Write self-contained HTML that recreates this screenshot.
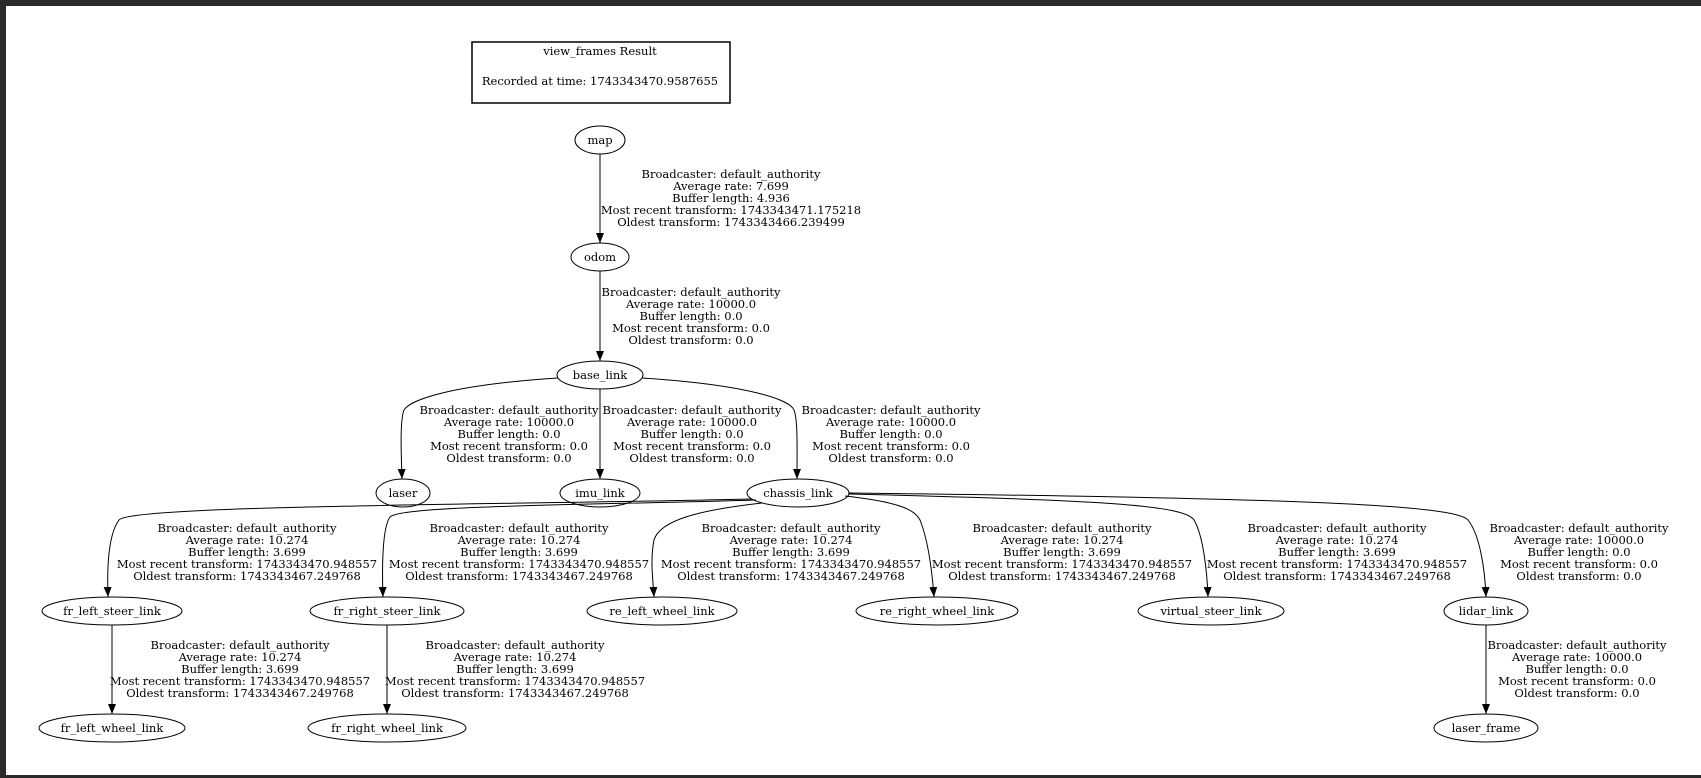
<!DOCTYPE html>
<html><head><meta charset="utf-8"><style>
html,body{margin:0;padding:0;background:#2b2b2b;}
svg{display:block;}
text{font-family:"DejaVu Serif","Liberation Serif",serif;font-size:11.5px;fill:#000;}
</style></head><body>
<svg width="1701" height="778" viewBox="0 0 1701 778" xmlns="http://www.w3.org/2000/svg">
<defs><marker id="a" markerWidth="10" markerHeight="8" refX="10" refY="4" orient="auto" markerUnits="userSpaceOnUse"><path d="M0,0 L10,4 L0,8 Z" fill="#000"/></marker></defs>
<rect x="0" y="0" width="1701" height="778" fill="#2b2b2b"/>
<rect x="6" y="6" width="1695" height="769" fill="#fff"/>
<g fill="none" stroke="#000" stroke-width="1">
<rect x="472" y="42" width="258" height="61" stroke-width="1.5"/>
<ellipse cx="600" cy="140" rx="25" ry="14"/>
<ellipse cx="600" cy="257" rx="29" ry="14"/>
<ellipse cx="600" cy="375" rx="43" ry="14"/>
<ellipse cx="403" cy="493" rx="27" ry="14"/>
<ellipse cx="600" cy="493" rx="40" ry="14"/>
<ellipse cx="798" cy="493" rx="51" ry="14"/>
<ellipse cx="112" cy="611" rx="70" ry="14"/>
<ellipse cx="387" cy="611" rx="77" ry="14"/>
<ellipse cx="662" cy="611" rx="75" ry="14"/>
<ellipse cx="937" cy="611" rx="81" ry="14"/>
<ellipse cx="1211" cy="611" rx="73" ry="14"/>
<ellipse cx="1486" cy="611" rx="42" ry="14"/>
<ellipse cx="112" cy="728" rx="73" ry="14"/>
<ellipse cx="387" cy="728" rx="79" ry="14"/>
<ellipse cx="1486" cy="728" rx="52" ry="14"/>
<g marker-end="url(#a)">
<path d="M600,154 L600,243"/>
<path d="M600,271 L600,361"/>
<path d="M558,378 C450,385 410,400 404,410 C400,420 401,450 402,479"/>
<path d="M600,389 L600,479"/>
<path d="M642,378 C750,385 790,400 794,410 C798,420 797,450 797,479"/>
<path d="M752,499 C500,505 130,505 119,520 C108,535 107,570 108,597"/>
<path d="M756,500 C600,505 400,505 390,517 C382,528 382,570 383,597"/>
<path d="M762,503 C700,510 660,520 654,540 C650,560 653,580 654,597"/>
<path d="M845,496 C900,502 915,510 920,520 C928,540 932,570 934,597"/>
<path d="M849,494 C1100,500 1185,505 1194,520 C1203,535 1207,570 1208,597"/>
<path d="M849,493 C1300,498 1455,505 1468,520 C1480,535 1485,570 1486,597"/>
<path d="M112,625 L112,714"/>
<path d="M387,625 L387,714"/>
<path d="M1486,625 L1486,714"/>
</g>
</g>
<g text-anchor="middle">
<text x="600" y="55">view_frames Result</text>
<text x="600" y="85">Recorded at time: 1743343470.9587655</text>
<text x="600" y="144">map</text>
<text x="600" y="261">odom</text>
<text x="600" y="379">base_link</text>
<text x="403" y="497">laser</text>
<text x="600" y="497">imu_link</text>
<text x="798" y="497">chassis_link</text>
<text x="112" y="615">fr_left_steer_link</text>
<text x="387" y="615">fr_right_steer_link</text>
<text x="662" y="615">re_left_wheel_link</text>
<text x="937" y="615">re_right_wheel_link</text>
<text x="1211" y="615">virtual_steer_link</text>
<text x="1486" y="615">lidar_link</text>
<text x="112" y="732">fr_left_wheel_link</text>
<text x="387" y="732">fr_right_wheel_link</text>
<text x="1486" y="732">laser_frame</text>

<text x="731" y="178">Broadcaster: default_authority<tspan x="731" dy="12">Average rate: 7.699</tspan><tspan x="731" dy="12">Buffer length: 4.936</tspan><tspan x="731" dy="12">Most recent transform: 1743343471.175218</tspan><tspan x="731" dy="12">Oldest transform: 1743343466.239499</tspan></text>
<text x="691" y="296">Broadcaster: default_authority<tspan x="691" dy="12">Average rate: 10000.0</tspan><tspan x="691" dy="12">Buffer length: 0.0</tspan><tspan x="691" dy="12">Most recent transform: 0.0</tspan><tspan x="691" dy="12">Oldest transform: 0.0</tspan></text>
<text x="509" y="414">Broadcaster: default_authority<tspan x="509" dy="12">Average rate: 10000.0</tspan><tspan x="509" dy="12">Buffer length: 0.0</tspan><tspan x="509" dy="12">Most recent transform: 0.0</tspan><tspan x="509" dy="12">Oldest transform: 0.0</tspan></text>
<text x="692" y="414">Broadcaster: default_authority<tspan x="692" dy="12">Average rate: 10000.0</tspan><tspan x="692" dy="12">Buffer length: 0.0</tspan><tspan x="692" dy="12">Most recent transform: 0.0</tspan><tspan x="692" dy="12">Oldest transform: 0.0</tspan></text>
<text x="891" y="414">Broadcaster: default_authority<tspan x="891" dy="12">Average rate: 10000.0</tspan><tspan x="891" dy="12">Buffer length: 0.0</tspan><tspan x="891" dy="12">Most recent transform: 0.0</tspan><tspan x="891" dy="12">Oldest transform: 0.0</tspan></text>

<text x="247" y="532">Broadcaster: default_authority<tspan x="247" dy="12">Average rate: 10.274</tspan><tspan x="247" dy="12">Buffer length: 3.699</tspan><tspan x="247" dy="12">Most recent transform: 1743343470.948557</tspan><tspan x="247" dy="12">Oldest transform: 1743343467.249768</tspan></text>
<text x="519" y="532">Broadcaster: default_authority<tspan x="519" dy="12">Average rate: 10.274</tspan><tspan x="519" dy="12">Buffer length: 3.699</tspan><tspan x="519" dy="12">Most recent transform: 1743343470.948557</tspan><tspan x="519" dy="12">Oldest transform: 1743343467.249768</tspan></text>
<text x="791" y="532">Broadcaster: default_authority<tspan x="791" dy="12">Average rate: 10.274</tspan><tspan x="791" dy="12">Buffer length: 3.699</tspan><tspan x="791" dy="12">Most recent transform: 1743343470.948557</tspan><tspan x="791" dy="12">Oldest transform: 1743343467.249768</tspan></text>
<text x="1062" y="532">Broadcaster: default_authority<tspan x="1062" dy="12">Average rate: 10.274</tspan><tspan x="1062" dy="12">Buffer length: 3.699</tspan><tspan x="1062" dy="12">Most recent transform: 1743343470.948557</tspan><tspan x="1062" dy="12">Oldest transform: 1743343467.249768</tspan></text>
<text x="1337" y="532">Broadcaster: default_authority<tspan x="1337" dy="12">Average rate: 10.274</tspan><tspan x="1337" dy="12">Buffer length: 3.699</tspan><tspan x="1337" dy="12">Most recent transform: 1743343470.948557</tspan><tspan x="1337" dy="12">Oldest transform: 1743343467.249768</tspan></text>
<text x="1579" y="532">Broadcaster: default_authority<tspan x="1579" dy="12">Average rate: 10000.0</tspan><tspan x="1579" dy="12">Buffer length: 0.0</tspan><tspan x="1579" dy="12">Most recent transform: 0.0</tspan><tspan x="1579" dy="12">Oldest transform: 0.0</tspan></text>

<text x="240" y="649">Broadcaster: default_authority<tspan x="240" dy="12">Average rate: 10.274</tspan><tspan x="240" dy="12">Buffer length: 3.699</tspan><tspan x="240" dy="12">Most recent transform: 1743343470.948557</tspan><tspan x="240" dy="12">Oldest transform: 1743343467.249768</tspan></text>
<text x="515" y="649">Broadcaster: default_authority<tspan x="515" dy="12">Average rate: 10.274</tspan><tspan x="515" dy="12">Buffer length: 3.699</tspan><tspan x="515" dy="12">Most recent transform: 1743343470.948557</tspan><tspan x="515" dy="12">Oldest transform: 1743343467.249768</tspan></text>
<text x="1577" y="649">Broadcaster: default_authority<tspan x="1577" dy="12">Average rate: 10000.0</tspan><tspan x="1577" dy="12">Buffer length: 0.0</tspan><tspan x="1577" dy="12">Most recent transform: 0.0</tspan><tspan x="1577" dy="12">Oldest transform: 0.0</tspan></text>
</g>
</svg>
</body></html>
